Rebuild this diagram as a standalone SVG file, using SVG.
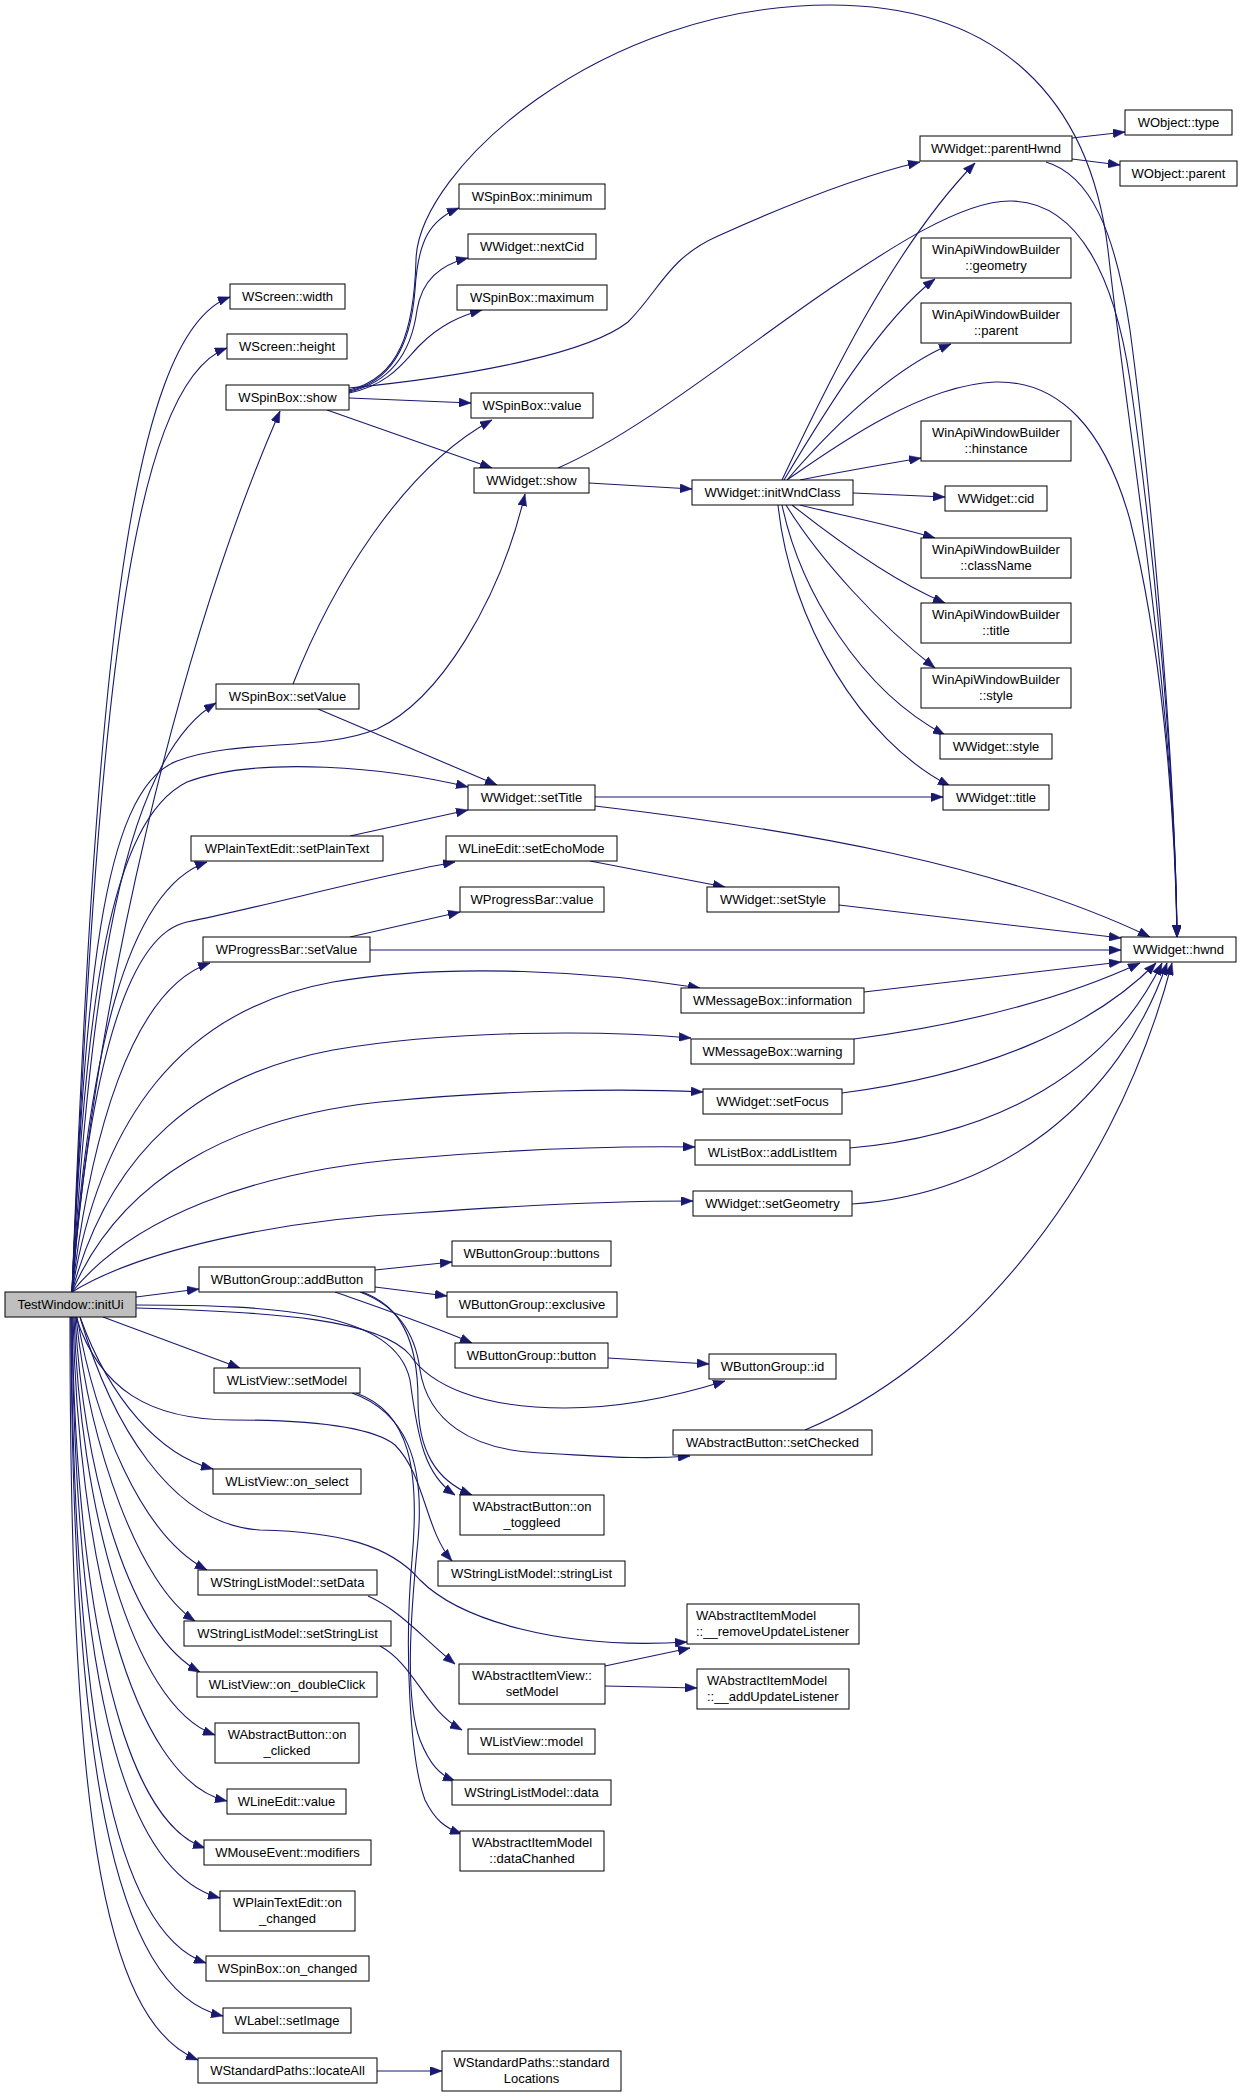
<svg xmlns="http://www.w3.org/2000/svg" width="1243" height="2097" viewBox="0 0 1243 2097">
<style>
.node rect{fill:#fff;stroke:#000;stroke-width:1}
.root rect{fill:#bfbfbf}
.node text{font-family:"Liberation Sans",Arial,sans-serif;font-size:13px;fill:#000;text-anchor:middle}
.node text.l{text-anchor:start}
.edges path{fill:none;stroke:#191970;stroke-width:1.1;marker-end:url(#ah)}
</style>
<defs>
<marker id="ah" viewBox="0 0 12 9" refX="12" refY="4.5" markerWidth="12" markerHeight="9" orient="auto" markerUnits="userSpaceOnUse">
<path d="M0,0 L12,4.5 L0,9 Z" fill="#191970" stroke="#191970" stroke-width="0.5"/>
</marker>
</defs>
<rect width="1243" height="2097" fill="#fff"/>
<g class="edges">
<path d="M72,1292 C95,700 125,335 230,297"/>
<path d="M72,1292 C97,720 128,385 227,348"/>
<path d="M72,1292 C95,1000 180,640 280,411"/>
<path d="M72,1292 C90,1000 120,760 216,703"/>
<path d="M72,1292 C85,1000 100,790 177,761 C240,738 320,752 377,729 C440,700 500,600 525,494"/>
<path d="M72,1292 C85,1000 110,820 187,782 C260,755 390,768 468,787"/>
<path d="M72,1292 C88,1060 125,890 207,862"/>
<path d="M72,1292 C88,1080 125,935 187,922 C270,905 380,875 455,862"/>
<path d="M72,1292 C90,1140 130,990 210,963"/>
<path d="M72,1292 C100,1120 180,1010 333,982 C450,962 600,972 700,988"/>
<path d="M72,1292 C110,1150 200,1075 333,1050 C450,1030 600,1030 691,1038"/>
<path d="M72,1292 C120,1180 230,1118 380,1102 C500,1090 620,1088 703,1092"/>
<path d="M72,1292 C130,1220 250,1170 415,1158 C520,1149 620,1146 695,1147"/>
<path d="M72,1292 C140,1250 280,1220 415,1213 C540,1204 620,1201 693,1201"/>
<path d="M136,1297 L199,1289"/>
<path d="M136,1308 C280,1312 380,1320 410,1355 C430,1385 480,1408 565,1408 C630,1408 690,1392 725,1381"/>
<path d="M103,1317 L240,1368"/>
<path d="M80,1317 C110,1420 170,1525 260,1530 C340,1532 390,1545 420,1580 C460,1620 560,1650 687,1642"/>
<path d="M76,1317 C100,1390 150,1420 233,1420 C300,1420 370,1425 395,1445 C425,1475 425,1530 452,1561"/>
<path d="M136,1305 C280,1305 395,1312 410,1380 C418,1440 425,1475 455,1495"/>
<path d="M80,1317 C110,1400 160,1455 213,1469"/>
<path d="M77,1317 C95,1420 140,1535 207,1570"/>
<path d="M76,1317 C90,1450 140,1585 195,1621"/>
<path d="M75,1317 C85,1480 130,1635 200,1672"/>
<path d="M74,1317 C80,1500 130,1705 215,1735"/>
<path d="M73,1317 C78,1550 130,1780 227,1801"/>
<path d="M72,1317 C76,1600 120,1820 205,1848"/>
<path d="M72,1317 C75,1650 115,1870 220,1898"/>
<path d="M71,1317 C74,1700 110,1930 206,1963"/>
<path d="M71,1317 C72,1750 110,1990 223,2016"/>
<path d="M70,1317 C70,1800 100,2020 198,2060"/>
<path d="M349,391 C400,380 412,330 415,290 C418,240 430,220 459,208"/>
<path d="M349,392 C400,380 413,340 417,310 C422,280 440,265 468,258"/>
<path d="M349,393 C390,385 405,360 420,345 C440,325 460,316 482,310"/>
<path d="M349,398 L471,403"/>
<path d="M327,410 L492,468"/>
<path d="M349,388 C480,375 590,352 628,322 C660,290 668,258 718,236 C780,208 860,176 920,162"/>
<path d="M349,390 C400,378 414,330 416,260 C418,170 600,5 830,5 C1000,5 1090,100 1108,250 C1130,450 1175,700 1177,937"/>
<path d="M589,483 L692,489"/>
<path d="M558,468 C640,432 740,350 828,290 C880,255 960,200 1011,201 C1080,202 1115,280 1130,380 C1150,520 1175,750 1177,937"/>
<path d="M1072,138 L1125,132"/>
<path d="M1072,159 L1120,165"/>
<path d="M1046,162 C1090,175 1115,230 1130,330 C1150,480 1175,750 1177,937"/>
<path d="M787,480 C830,450 920,385 995,382 C1060,380 1105,430 1130,520 C1160,640 1175,800 1177,937"/>
<path d="M782,480 C820,400 890,250 975,163"/>
<path d="M784,480 C820,420 880,320 935,279"/>
<path d="M787,480 C830,430 890,370 951,344"/>
<path d="M800,480 C840,472 880,465 921,458"/>
<path d="M853,493 L945,497"/>
<path d="M800,505 C840,515 890,525 935,538"/>
<path d="M792,505 C830,535 890,580 945,603"/>
<path d="M786,505 C820,560 880,625 935,668"/>
<path d="M782,505 C800,590 860,690 945,735"/>
<path d="M778,505 C790,620 860,740 950,786"/>
<path d="M595,797 L943,797"/>
<path d="M595,806 C800,830 1000,865 1150,937"/>
<path d="M293,684 C330,590 400,470 492,420"/>
<path d="M318,709 L497,785"/>
<path d="M350,836 L468,810"/>
<path d="M590,861 L725,887"/>
<path d="M839,905 L1121,938"/>
<path d="M370,950 L1121,950"/>
<path d="M350,937 L460,912"/>
<path d="M864,992 L1121,962"/>
<path d="M854,1039 C960,1025 1060,1000 1140,963"/>
<path d="M842,1093 C980,1075 1090,1030 1156,963"/>
<path d="M850,1148 C1000,1135 1110,1070 1162,963"/>
<path d="M852,1204 C1000,1195 1120,1100 1167,963"/>
<path d="M805,1430 C950,1370 1110,1200 1172,963"/>
<path d="M375,1270 L452,1262"/>
<path d="M375,1287 L447,1296"/>
<path d="M335,1292 C380,1308 430,1325 472,1343"/>
<path d="M360,1292 C395,1305 415,1330 420,1370 C428,1420 470,1450 540,1453 C600,1456 640,1460 690,1456"/>
<path d="M362,1292 C400,1305 418,1340 418,1400 C418,1450 435,1480 472,1495"/>
<path d="M608,1358 L709,1364"/>
<path d="M368,1596 C400,1610 425,1640 455,1664"/>
<path d="M380,1646 C415,1665 425,1710 462,1730"/>
<path d="M352,1393 C405,1412 425,1460 418,1540 C410,1620 405,1700 420,1740 C430,1765 440,1775 455,1781"/>
<path d="M356,1393 C410,1412 420,1470 412,1560 C404,1650 410,1760 425,1800 C435,1820 445,1828 462,1834"/>
<path d="M605,1666 L690,1648"/>
<path d="M605,1686 L697,1688"/>
<path d="M377,2071 L442,2071"/>
</g>
<g id="n_initUi" class="node root"><rect x="5" y="1292" width="131" height="25"/><text x="70.5" y="1309">TestWindow::initUi</text></g>
<g id="n_sw" class="node"><rect x="230" y="284" width="115" height="25"/><text x="287.5" y="301">WScreen::width</text></g>
<g id="n_sh" class="node"><rect x="227" y="334" width="120" height="25"/><text x="287" y="351">WScreen::height</text></g>
<g id="n_sbshow" class="node"><rect x="226" y="385" width="123" height="25"/><text x="287.5" y="402">WSpinBox::show</text></g>
<g id="n_sbsetval" class="node"><rect x="216" y="684" width="143" height="25"/><text x="287.5" y="701">WSpinBox::setValue</text></g>
<g id="n_sbmin" class="node"><rect x="459" y="184" width="146" height="25"/><text x="532" y="201">WSpinBox::minimum</text></g>
<g id="n_nextcid" class="node"><rect x="468" y="234" width="128" height="25"/><text x="532" y="251">WWidget::nextCid</text></g>
<g id="n_sbmax" class="node"><rect x="457" y="285" width="150" height="25"/><text x="532" y="302">WSpinBox::maximum</text></g>
<g id="n_sbval" class="node"><rect x="471" y="393" width="122" height="25"/><text x="532" y="410">WSpinBox::value</text></g>
<g id="n_wshow" class="node"><rect x="474" y="468" width="115" height="25"/><text x="531.5" y="485">WWidget::show</text></g>
<g id="n_initwc" class="node"><rect x="692" y="480" width="161" height="25"/><text x="772.5" y="497">WWidget::initWndClass</text></g>
<g id="n_otype" class="node"><rect x="1125" y="110" width="107" height="25"/><text x="1178.5" y="127">WObject::type</text></g>
<g id="n_parenthwnd" class="node"><rect x="920" y="136" width="152" height="25"/><text x="996" y="153">WWidget::parentHwnd</text></g>
<g id="n_oparent" class="node"><rect x="1120" y="161" width="117" height="25"/><text x="1178.5" y="178">WObject::parent</text></g>
<g id="n_geom" class="node"><rect x="921" y="238" width="150" height="40"/><text x="996" y="254">WinApiWindowBuilder</text><text x="996" y="270">::geometry</text></g>
<g id="n_wparent" class="node"><rect x="921" y="303" width="150" height="40"/><text x="996" y="319">WinApiWindowBuilder</text><text x="996" y="335">::parent</text></g>
<g id="n_hinst" class="node"><rect x="921" y="421" width="150" height="40"/><text x="996" y="437">WinApiWindowBuilder</text><text x="996" y="453">::hinstance</text></g>
<g id="n_cid" class="node"><rect x="945" y="486" width="102" height="25"/><text x="996" y="503">WWidget::cid</text></g>
<g id="n_classname" class="node"><rect x="921" y="538" width="150" height="40"/><text x="996" y="554">WinApiWindowBuilder</text><text x="996" y="570">::className</text></g>
<g id="n_wtitle" class="node"><rect x="921" y="603" width="150" height="40"/><text x="996" y="619">WinApiWindowBuilder</text><text x="996" y="635">::title</text></g>
<g id="n_wstyle" class="node"><rect x="921" y="668" width="150" height="40"/><text x="996" y="684">WinApiWindowBuilder</text><text x="996" y="700">::style</text></g>
<g id="n_style" class="node"><rect x="940" y="734" width="112" height="25"/><text x="996" y="751">WWidget::style</text></g>
<g id="n_title" class="node"><rect x="943" y="785" width="106" height="25"/><text x="996" y="802">WWidget::title</text></g>
<g id="n_hwnd" class="node"><rect x="1121" y="937" width="115" height="25"/><text x="1178.5" y="954">WWidget::hwnd</text></g>
<g id="n_settitle" class="node"><rect x="468" y="785" width="127" height="25"/><text x="531.5" y="802">WWidget::setTitle</text></g>
<g id="n_echo" class="node"><rect x="446" y="836" width="171" height="25"/><text x="531.5" y="853">WLineEdit::setEchoMode</text></g>
<g id="n_pbval" class="node"><rect x="460" y="887" width="144" height="25"/><text x="532" y="904">WProgressBar::value</text></g>
<g id="n_setstyle" class="node"><rect x="707" y="887" width="132" height="25"/><text x="773" y="904">WWidget::setStyle</text></g>
<g id="n_info" class="node"><rect x="681" y="988" width="183" height="25"/><text x="772.5" y="1005">WMessageBox::information</text></g>
<g id="n_warn" class="node"><rect x="691" y="1039" width="163" height="25"/><text x="772.5" y="1056">WMessageBox::warning</text></g>
<g id="n_focus" class="node"><rect x="703" y="1089" width="139" height="25"/><text x="772.5" y="1106">WWidget::setFocus</text></g>
<g id="n_addli" class="node"><rect x="695" y="1140" width="155" height="25"/><text x="772.5" y="1157">WListBox::addListItem</text></g>
<g id="n_geomset" class="node"><rect x="693" y="1191" width="159" height="25"/><text x="772.5" y="1208">WWidget::setGeometry</text></g>
<g id="n_buttons" class="node"><rect x="452" y="1241" width="159" height="25"/><text x="531.5" y="1258">WButtonGroup::buttons</text></g>
<g id="n_excl" class="node"><rect x="447" y="1292" width="170" height="25"/><text x="532" y="1309">WButtonGroup::exclusive</text></g>
<g id="n_button" class="node"><rect x="455" y="1343" width="153" height="25"/><text x="531.5" y="1360">WButtonGroup::button</text></g>
<g id="n_id" class="node"><rect x="709" y="1354" width="127" height="25"/><text x="772.5" y="1371">WButtonGroup::id</text></g>
<g id="n_plain" class="node"><rect x="191" y="836" width="192" height="25"/><text x="287" y="853">WPlainTextEdit::setPlainText</text></g>
<g id="n_pbset" class="node"><rect x="203" y="937" width="167" height="25"/><text x="286.5" y="954">WProgressBar::setValue</text></g>
<g id="n_addbtn" class="node"><rect x="199" y="1267" width="176" height="25"/><text x="287" y="1284">WButtonGroup::addButton</text></g>
<g id="n_lvsetmodel" class="node"><rect x="214" y="1368" width="146" height="25"/><text x="287" y="1385">WListView::setModel</text></g>
<g id="n_onselect" class="node"><rect x="213" y="1469" width="148" height="25"/><text x="287" y="1486">WListView::on_select</text></g>
<g id="n_setdata" class="node"><rect x="198" y="1570" width="179" height="25"/><text x="287.5" y="1587">WStringListModel::setData</text></g>
<g id="n_setsl" class="node"><rect x="184" y="1621" width="207" height="25"/><text x="287.5" y="1638">WStringListModel::setStringList</text></g>
<g id="n_dbl" class="node"><rect x="197" y="1672" width="180" height="25"/><text x="287" y="1689">WListView::on_doubleClick</text></g>
<g id="n_clicked" class="node"><rect x="215" y="1723" width="144" height="40"/><text x="287" y="1739">WAbstractButton::on</text><text x="287" y="1755">_clicked</text></g>
<g id="n_levalue" class="node"><rect x="227" y="1789" width="119" height="25"/><text x="286.5" y="1806">WLineEdit::value</text></g>
<g id="n_mods" class="node"><rect x="204" y="1840" width="167" height="25"/><text x="287.5" y="1857">WMouseEvent::modifiers</text></g>
<g id="n_ptchanged" class="node"><rect x="220" y="1891" width="135" height="40"/><text x="287.5" y="1907">WPlainTextEdit::on</text><text x="287.5" y="1923">_changed</text></g>
<g id="n_sbchanged" class="node"><rect x="206" y="1956" width="163" height="25"/><text x="287.5" y="1973">WSpinBox::on_changed</text></g>
<g id="n_setimage" class="node"><rect x="223" y="2008" width="128" height="25"/><text x="287" y="2025">WLabel::setImage</text></g>
<g id="n_locate" class="node"><rect x="198" y="2058" width="179" height="25"/><text x="287.5" y="2075">WStandardPaths::locateAll</text></g>
<g id="n_setchecked" class="node"><rect x="673" y="1430" width="199" height="25"/><text x="772.5" y="1447">WAbstractButton::setChecked</text></g>
<g id="n_toggled" class="node"><rect x="460" y="1495" width="144" height="40"/><text x="532" y="1511">WAbstractButton::on</text><text x="532" y="1527">_toggleed</text></g>
<g id="n_stringlist" class="node"><rect x="438" y="1561" width="187" height="25"/><text x="531.5" y="1578">WStringListModel::stringList</text></g>
<g id="n_remove" class="node"><rect x="687" y="1604" width="172" height="40"/><text class="l" x="696" y="1620">WAbstractItemModel</text><text class="l" x="696" y="1636">::__removeUpdateListener</text></g>
<g id="n_aivsetmodel" class="node"><rect x="459" y="1664" width="146" height="40"/><text x="532" y="1680">WAbstractItemView::</text><text x="532" y="1696">setModel</text></g>
<g id="n_add" class="node"><rect x="697" y="1669" width="152" height="40"/><text class="l" x="707" y="1685">WAbstractItemModel</text><text class="l" x="707" y="1701">::__addUpdateListener</text></g>
<g id="n_lvmodel" class="node"><rect x="468" y="1729" width="127" height="25"/><text x="531.5" y="1746">WListView::model</text></g>
<g id="n_data" class="node"><rect x="452" y="1780" width="159" height="25"/><text x="531.5" y="1797">WStringListModel::data</text></g>
<g id="n_datach" class="node"><rect x="460" y="1831" width="144" height="40"/><text x="532" y="1847">WAbstractItemModel</text><text x="532" y="1863">::dataChanhed</text></g>
<g id="n_stdloc" class="node"><rect x="442" y="2051" width="179" height="40"/><text x="531.5" y="2067">WStandardPaths::standard</text><text x="531.5" y="2083">Locations</text></g>
</svg>
